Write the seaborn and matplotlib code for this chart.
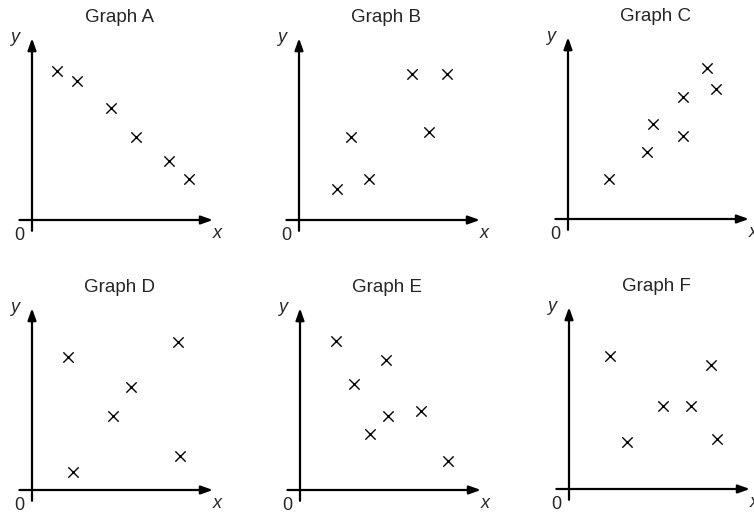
import matplotlib
matplotlib.use("Agg")
import matplotlib.pyplot as plt
import seaborn as sns
import pandas as pd

# punkte je diagramm, einheiten: achsenlaenge ~10
names = ["Graph A", "Graph B", "Graph C", "Graph D", "Graph E", "Graph F"]
xa = [1.4, 2.5, 4.4, 5.8, 7.6, 8.7]
ya = [8.3, 7.7, 6.2, 4.6, 3.3, 2.3]
xb = [2.1, 2.9, 3.9, 6.3, 7.2, 8.2]
yb = [1.7, 4.6, 2.3, 8.1, 4.9, 8.1]
xc = [2.3, 4.4, 4.7, 6.4, 6.4, 7.7, 8.2]
yc = [2.2, 3.7, 5.3, 6.8, 4.6, 8.4, 7.2]
xd = [2.0, 2.3, 4.5, 5.5, 8.1, 8.2]
yd = [7.4, 1.0, 4.1, 5.7, 8.2, 1.9]
xe = [2.0, 3.0, 3.9, 4.8, 4.9, 6.7, 8.2]
ye = [8.3, 5.9, 3.1, 7.2, 4.1, 4.4, 1.6]
xf = [2.3, 3.2, 5.2, 6.8, 7.9, 8.2]
yf = [7.4, 2.6, 4.6, 4.6, 6.9, 2.8]
xs = [xa, xb, xc, xd, xe, xf]
ys = [ya, yb, yc, yd, ye, yf]

# ursprung jedes diagramms in pixeln (x, y von oben)
origins = [(32, 220), (299, 220), (568, 219), (32, 490), (300, 490), (569, 489)]

W, H = 754, 515
U = 18.0  # pixel pro einheit
sns.set_style("white")
plt.rcParams["font.family"] = ["Liberation Sans", "DejaVu Sans"]

fig = plt.figure(figsize=(W / 100, H / 100), dpi=100)

for name, x, y, (ox, oy) in zip(names, xs, ys, origins):
    left, right = ox - 20, ox + 200
    top, bottom = oy - 205, oy + 22
    ax = fig.add_axes([left / W, 1 - bottom / H, (right - left) / W, (bottom - top) / H])
    ax.set_xlim(-20 / U, 200 / U)
    ax.set_ylim(-22 / U, 205 / U)
    ax.axis("off")
    df = pd.DataFrame({"x": x, "y": y})
    sns.scatterplot(data=df, x="x", y="y", ax=ax, marker="x", s=55,
                    color="black", linewidth=1.0)
    arr = dict(arrowstyle="-|>,head_length=0.7,head_width=0.25", color="black",
               lw=1.6, shrinkA=0, shrinkB=0)
    ax.annotate("", xy=(10.05, 0), xytext=(-0.7, 0), arrowprops=arr,
                annotation_clip=False)
    ax.annotate("", xy=(0, 10.1), xytext=(0, -0.6), arrowprops=arr,
                annotation_clip=False)
    ax.text(4.85, 11.25, name, ha="center", va="center", fontsize=13.5)
    ax.text(-0.95, 10.15, "y", ha="center", va="center", fontsize=13,
            style="italic")
    ax.text(10.3, -0.75, "x", ha="center", va="center", fontsize=13,
            style="italic")
    ax.text(-0.7, -0.85, "0", ha="center", va="center", fontsize=13)

fig.savefig("out.png", dpi=100)
